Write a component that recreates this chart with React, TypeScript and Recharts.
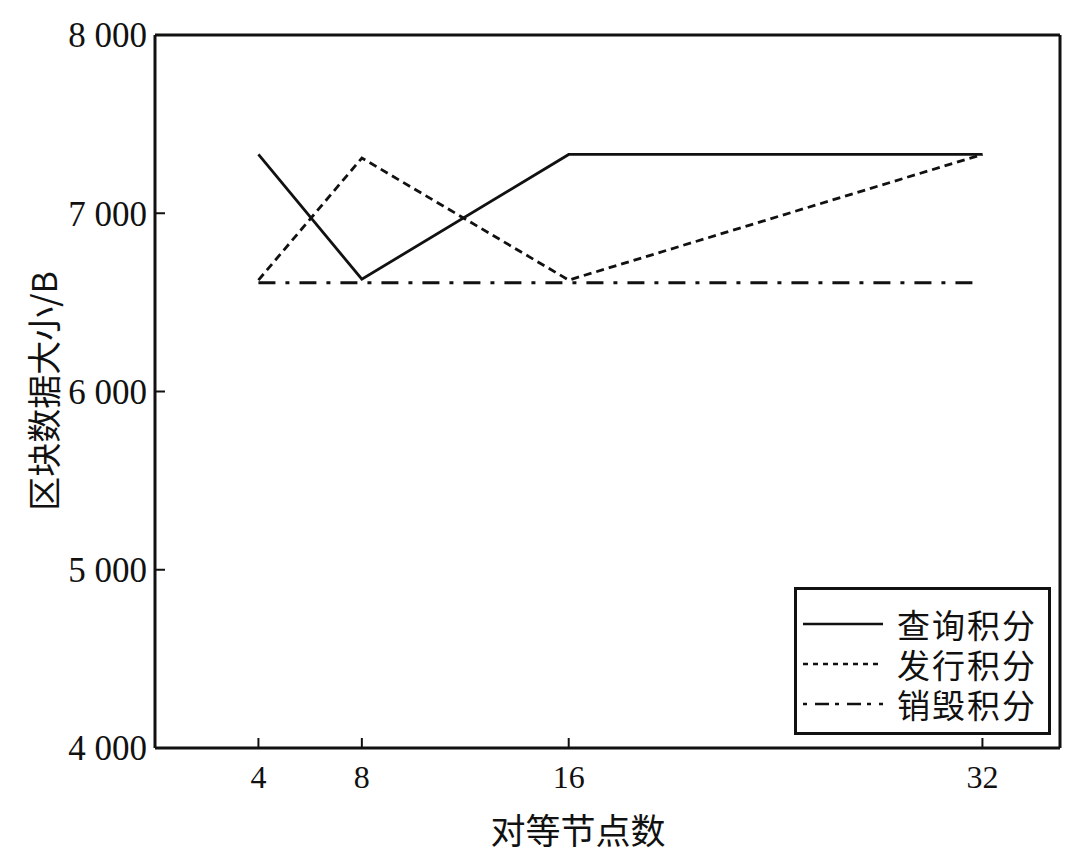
import React from 'react';
import {
  LineChart,
  Line,
  XAxis,
  YAxis,
  ReferenceLine,
  Legend,
} from 'recharts';

// 对等节点数
const nodeCounts = [4, 8, 16, 32];
const queryValues = [7330, 6630, 7330, 7330];
const issueValues = [6625, 7310, 6625, 7330];
const destroyValues = [6610, 6610, 6610, 6610];

const seriesNames = ['查询积分', '发行积分', '销毁积分'];
const yTicks = [4000, 5000, 6000, 7000, 8000];

const data = nodeCounts.map((n, i) => ({
  nodes: n,
  query: queryValues[i],
  issue: issueValues[i],
  destroy: destroyValues[i],
}));

const serif = '"Liberation Serif", "DejaVu Serif", serif';
const cjk = '"Noto Sans CJK SC", "Noto Sans", sans-serif';

const lineStyles = [
  { key: 'query', dash: undefined },
  { key: 'issue', dash: '8 5' },
  { key: 'destroy', dash: '17 10 4 10' },
];

const legendDash = [undefined, '5 5', '4 8 14 6'];

const LegendBox = () => (
  <div
    style={{
      width: 251,
      height: 142,
      border: '3px solid #111',
      background: '#fff',
      boxSizing: 'content-box',
    }}
  >
    {seriesNames.map((name, i) => (
      <div key={name} style={{ display: 'flex', alignItems: 'center', height: 40, marginTop: i === 0 ? 14 : 0 }}>
        <svg width={94} height={10} style={{ marginLeft: 6 }}>
          <line x1={0} y1={5} x2={80} y2={5} stroke="#111" strokeWidth={2.5} strokeDasharray={legendDash[i]} />
        </svg>
        <span style={{ fontFamily: cjk, fontSize: 33, color: '#111', lineHeight: '40px', letterSpacing: 2 }}>{name}</span>
      </div>
    ))}
  </div>
);

export default function App() {
  return (
    <div style={{ position: 'absolute', left: 0, top: 0, background: '#fff' }}>
      <LineChart
        width={1078}
        height={862}
        data={data}
        margin={{ top: 35, right: 18, left: 0, bottom: 0 }}
      >
        <XAxis
          dataKey="nodes"
          type="number"
          domain={[0, 35]}
          ticks={nodeCounts}
          height={114}
          axisLine={{ stroke: '#111', strokeWidth: 3 }}
          tickLine={{ stroke: '#111', strokeWidth: 2 }}
          tickSize={-10}
          tickMargin={27}
          tick={{ fill: '#111', fontFamily: serif, fontSize: 32 }}
          label={{
            content: () => (
              <text x={578} y={828} textAnchor="middle" dominantBaseline="central" fontFamily={cjk} fontSize={35} fill="#111">
                对等节点数
              </text>
            ),
          }}
        />
        <YAxis
          type="number"
          domain={[4000, 8000]}
          ticks={yTicks}
          width={155}
          axisLine={{ stroke: '#111', strokeWidth: 3 }}
          tickLine={{ stroke: '#111', strokeWidth: 2 }}
          tickSize={-10}
          tickMargin={18}
          tick={{ fill: '#111', fontFamily: serif, fontSize: 35 }}
          tickFormatter={(v: number) => `${Math.floor(v / 1000)} ${String(v % 1000).padStart(3, '0')}`}
          label={{
            content: () => (
              <text
                x={42}
                y={391}
                transform="rotate(-90 42 391)"
                textAnchor="middle"
                dominantBaseline="central"
                fontFamily={cjk}
                fontSize={34}
                fill="#111"
              >
                区块数据大小/B
              </text>
            ),
          }}
        />
        <ReferenceLine y={8000} stroke="#111" strokeWidth={3} />
        <ReferenceLine x={35} stroke="#111" strokeWidth={3} />
        {lineStyles.map((s, i) => (
          <Line
            key={s.key}
            type="linear"
            dataKey={s.key}
            name={seriesNames[i]}
            stroke="#111"
            strokeWidth={2.8}
            strokeDasharray={s.dash}
            dot={false}
            activeDot={false}
            isAnimationActive={false}
          />
        ))}
        <Legend
          layout="horizontal"
          align="center"
          verticalAlign="middle"
          content={() => <LegendBox />}
          wrapperStyle={{ position: 'absolute', left: 794, top: 587, width: 'auto' }}
        />
      </LineChart>
    </div>
  );
}
